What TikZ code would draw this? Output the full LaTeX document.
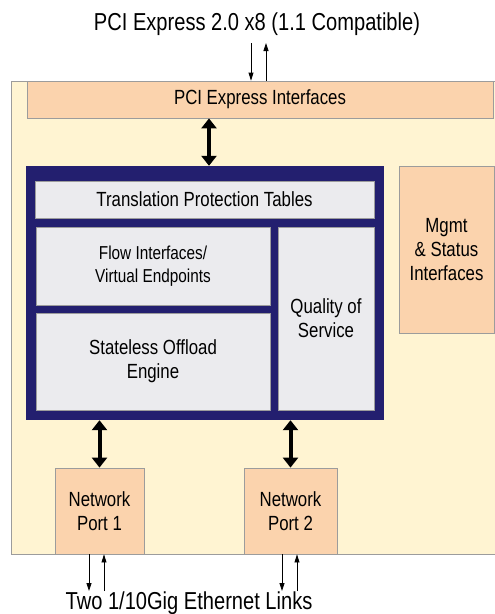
\documentclass[tikz,border=0pt]{standalone}
\usepackage{fontspec}
\setmainfont{Liberation Sans}[FakeStretch=0.82]
\usetikzlibrary{arrows.meta}

\definecolor{boardbg}{HTML}{FFF4D2}
\definecolor{peach}{HTML}{FBD3AD}
\definecolor{navy}{HTML}{231F6F}
\definecolor{cellgray}{HTML}{EBEBEE}
\definecolor{edgegray}{HTML}{9C9C9C}

\tikzset{
  box/.style={draw=edgegray, line width=0.8pt, inner sep=0pt, align=center,
    font=\fontsize{20.5}{24}\selectfont},
  port/.style={box, fill=peach},
  cell/.style={box, fill=cellgray},
  bus/.style={line width=4pt,
    {Triangle[width=15pt,length=10pt]}-{Triangle[width=15pt,length=10pt]}},
  wire/.style={line width=0.8pt, -{Triangle[width=5pt,length=8pt]}},
}

\begin{document}
\begin{tikzpicture}[x=1pt,y=-1pt]
  \useasboundingbox (0,0) rectangle (495,614);
  \node[draw=edgegray, fill=boardbg, inner sep=0pt, minimum width=487pt, minimum height=473pt] (board) at (254.5,317.5) {};
  \node[font=\fontsize{24.5}{25}\selectfont] (pcix8) at (257,24) {PCI Express 2.0 x8 (1.1 Compatible)};
  \node[port, minimum width=466pt, minimum height=37pt] (pcie) at (260,99.5) {PCI Express Interfaces};
  \node[fill=navy, inner sep=0pt, minimum width=358pt, minimum height=254pt] (core) at (205,293) {};
  \node[cell, minimum width=339pt, minimum height=37pt] (tpt) at (204.5,199.5) {Translation Protection Tables};
  \node[cell, minimum width=234pt, minimum height=78pt, font=\fontsize{18.7}{23}\selectfont] (flow) at (153,266) {Flow Interfaces/\\Virtual Endpoints};
  \node[cell, minimum width=234pt, minimum height=97pt] (sloe) at (153,361.5) {Stateless Offload\\Engine};
  \node[cell, minimum width=96pt, minimum height=183pt] (qos) at (326,318.5) {Quality of\\Service};
  \node[port, minimum width=95pt, minimum height=167pt] (mgmt) at (446.5,249.5) {Mgmt\\\&~Status\\Interfaces};
  \node[port, minimum width=89pt, minimum height=86pt] (port1) at (99.5,511) {Network\\Port 1};
  \node[port, minimum width=93pt, minimum height=86pt] (port2) at (290.5,511) {Network\\Port 2};
  \node[font=\fontsize{24.5}{25}\selectfont] (links) at (189,603) {Two 1/10Gig Ethernet Links};

  \coordinate (busx) at (209,0);
  \draw[bus] (pcie.south -| busx) -- (core.north -| busx);
  \draw[bus] (core.south -| port1.north) -- (port1.north);
  \draw[bus] (core.south -| port2.north) -- (port2.north);

  \coordinate (hostin) at (251,43);
  \coordinate (hostout) at (266,43);
  \draw[wire] (hostin) -- (hostin |- pcie.north);
  \draw[wire] (hostout |- pcie.north) -- (hostout);

  \coordinate (eth1in) at (89,591);
  \coordinate (eth1out) at (104,591);
  \coordinate (eth2in) at (282,591);
  \coordinate (eth2out) at (297,591);
  \draw[wire] (eth1in |- port1.south) -- (eth1in);
  \draw[wire] (eth1out) -- (eth1out |- port1.south);
  \draw[wire] (eth2in |- port2.south) -- (eth2in);
  \draw[wire] (eth2out) -- (eth2out |- port2.south);
\end{tikzpicture}
\end{document}
